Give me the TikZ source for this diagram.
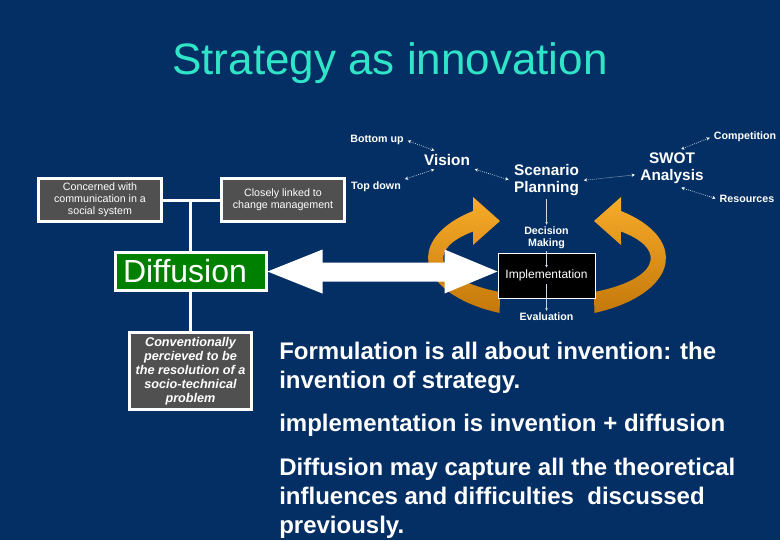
\documentclass[tikz,border=0pt]{standalone}
\usepackage{fontspec}
\setmainfont{Liberation Sans}
\usepackage{xcolor}
\usepackage{tikz}
\usetikzlibrary{positioning,arrows.meta,calc}

\definecolor{slidebg}{RGB}{4,47,100}
\definecolor{titlecol}{RGB}{48,228,200}
\definecolor{boxgrey}{RGB}{80,80,80}
\definecolor{diffgreen}{RGB}{0,128,0}
\definecolor{orangelt}{RGB}{248,172,42}
\definecolor{orangedk}{RGB}{196,120,10}

\begin{document}
\begin{tikzpicture}[
		x=0.75pt, y=-0.75pt,
		font=\fontsize{8}{9}\selectfont,
		note/.style={draw=white, line width=2.25pt, fill=boxgrey, text=white, align=center,
			minimum width=92.25pt, minimum height=32.25pt, inner sep=2pt},
		wline/.style={white, line width=2.25pt},
		lbl/.style={text=white, font=\bfseries\fontsize{8}{9}\selectfont, align=center, inner sep=1.5pt},
		biglbl/.style={text=white, font=\bfseries\fontsize{11.5}{12.75}\selectfont, align=center, inner sep=2pt},
		dotarr/.style={{Stealth[length=2.5pt,width=2.5pt]}-{Stealth[length=2.5pt,width=2.5pt]},
			densely dotted, white, line width=0.5pt, shorten <=1.5pt, shorten >=2pt},
		thinarr/.style={-{Stealth[length=2pt,width=2pt]}, white!80!slidebg, line width=0.4pt},
		cyc/.style={top color=orangelt, bottom color=orangedk}
		]
		\fill[slidebg] (0,0) rectangle (780,540);

		\node[anchor=base, text=titlecol, font=\fontsize{33}{38}\selectfont, inner sep=0pt] (title)
		at (390,74) {Strategy as innovation};

		% cycle round the implementation box
		\shade[cyc] (473,211) arc[start angle=231.5, end angle=113.5, x radius=119, y radius=60]
		-- (500,292) arc[start angle=117, end angle=224.5, x radius=104, y radius=38]
		-- (473,245) -- (500,221) -- (473,197) -- cycle;
		\shade[cyc] (621,211) arc[start angle=-51.5, end angle=66.5, x radius=119, y radius=60]
		-- (594,292) arc[start angle=63, end angle=-44.5, x radius=104, y radius=38]
		-- (621,245) -- (594,221) -- (621,197) -- cycle;

		\node[draw=white, line width=0.75pt, fill=black, text=white, font=\fontsize{9}{10}\selectfont,
		minimum width=72.75pt, minimum height=33.75pt, inner sep=0pt] (impl) at (546.5,275.5) {Implementation};

		\node[biglbl] (vision) at (447,160) {Vision};
		\node[biglbl] (scen) at (546.5,180.5) {Scenario\\Planning};
		\node[biglbl] (swot) at (672,168.5) {SWOT\\Analysis};
		\node[lbl] (bup) at (377,140) {Bottom up};
		\node[lbl] (tdown) at (376,187) {Top down};
		\node[lbl] (comp) at (745,137) {Competition};
		\node[lbl] (res) at (747,199) {Resources};
		\node[lbl] (dec) at (546.5,238) {Decision\\Making};
		\node[lbl] (eval) at (546.5,317) {Evaluation};

		\draw[dotarr] (bup.east) -- (vision.140);
		\draw[dotarr] (tdown.north east) -- (vision.220);
		\draw[dotarr] (vision.south east) -- (scen.west);
		\draw[dotarr] (scen.east) -- (swot.190);
		\draw[dotarr] (comp.west) -- (swot.70);
		\draw[dotarr] (res.west) -- (swot.290);
		\draw[thinarr] (scen.south) -- (dec.north);
		\draw[thinarr] (dec.south) -- ([yshift=6pt]impl.center);
		\draw[thinarr] ([yshift=-6pt]impl.center) -- (eval.north);

		% left side boxes
		\node[note] (conc) at (100,200) {Concerned with\\communication in a\\social system};
		\node[note] (linked) at (283,200) {Closely linked to\\change management};
		\node[draw=white, line width=2.25pt, fill=diffgreen, text=white, font=\fontsize{24}{28}\selectfont,
		inner xsep=6pt, text width=101.25pt, align=left, minimum height=28.5pt] (diff) at (190.5,271.5) {Diffusion};
		\node[note, minimum width=91.5pt, minimum height=57.75pt,
		font=\bfseries\itshape\fontsize{9.5}{10.5}\selectfont] (conv) at (190.5,371)
		{Conventionally\\percieved to be\\the resolution of a\\socio-technical\\problem};
		\draw[wline] (conc) -- (linked);
		\draw[wline] (diff.north) -- (diff.north |- conc.east);
		\draw[wline] (diff) -- (conv);

		% double arrow
		\coordinate (tip) at (impl.west |- diff.east);
		\fill[white] (diff.east) -- ++(55,-22) -- ++(0,13) -- ($(tip)+(-53,-9)$) -- ++(0,-13)
		-- (tip) -- ++(-53,22) -- ++(0,-12) -- ($(diff.east)+(55,10)$) -- ++(0,12) -- cycle;

		\node[anchor=north west, align=left, inner sep=0pt, text=white,
		font=\bfseries\fontsize{18}{21.75}\selectfont] (txt) at (279,342)
		{Formulation is all about invention: the\\invention of strategy.\\[10.5pt]
			implementation is invention + diffusion\\[11pt]
			Diffusion may capture all the theoretical\\influences and difficulties\ \ discussed\\previously.};
	\end{tikzpicture}
\end{document}
